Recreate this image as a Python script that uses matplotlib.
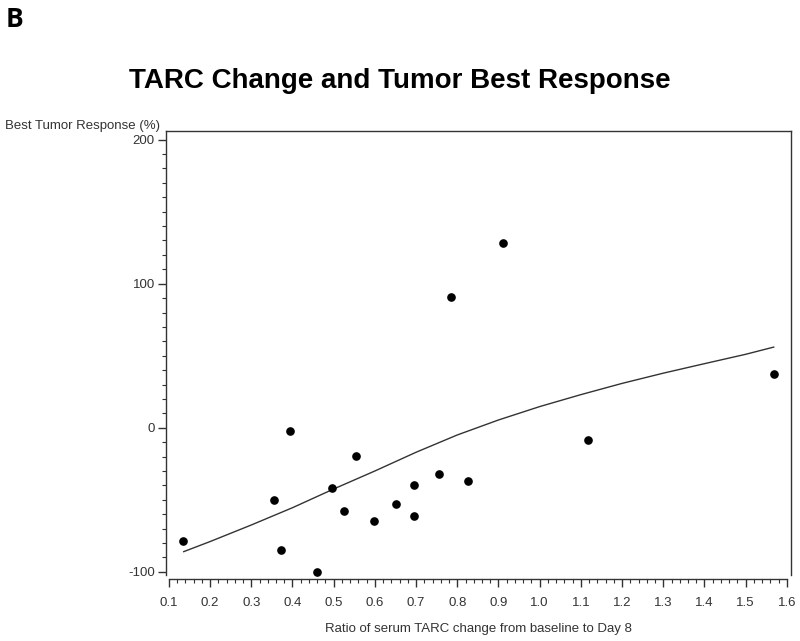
import matplotlib
matplotlib.use("Agg")
import matplotlib.pyplot as plt
from matplotlib.ticker import MultipleLocator, FixedLocator

plt.rcParams['font.family'] = ['Liberation Sans', 'DejaVu Sans']

# Scatter data: ratio of serum TARC change vs best tumor response (%)
tarc_ratio = [0.134, 0.355, 0.372, 0.394, 0.459, 0.496, 0.525, 0.554, 0.598,
              0.651, 0.695, 0.695, 0.755, 0.784, 0.826, 0.911, 1.117, 1.568]
tumor_resp = [-78.5, -50, -85, -2, -100, -42, -58, -19.5, -64.5,
              -53, -40, -61, -32, 91, -37, 128, -8.5, 37]

# Fitted curve
fit_x = [0.136, 0.2, 0.3, 0.4, 0.5, 0.6, 0.7, 0.8, 0.9, 1.0, 1.1, 1.2, 1.3, 1.4, 1.5, 1.568]
fit_y = [-86, -79, -67.5, -55.5, -42.5, -30, -17, -5, 5.4, 14.7, 23, 30.8, 37.9, 44.5, 51, 56]

x_ticks = [0.1, 0.2, 0.3, 0.4, 0.5, 0.6, 0.7, 0.8, 0.9, 1.0, 1.1, 1.2, 1.3, 1.4, 1.5, 1.6]
y_ticks = [-100, 0, 100, 200]

fig = plt.figure(figsize=(8.0, 6.41), dpi=100)
ax = fig.add_axes([0.2075, 0.0967, 0.78125, 0.6989])

ax.plot(fit_x, fit_y, color='#333333', lw=1.0)
ax.plot(tarc_ratio, tumor_resp, 'o', color='black', markersize=5.2, ls='none')

ax.set_xlim(0.093, 1.61)
ax.set_ylim(-105, 206)

ax.xaxis.set_major_locator(FixedLocator(x_ticks))
ax.set_xticklabels([f"{v:.1f}" for v in x_ticks])
ax.xaxis.set_minor_locator(MultipleLocator(0.02))
ax.yaxis.set_major_locator(FixedLocator(y_ticks))
ax.set_yticklabels([str(v) for v in y_ticks])
ax.yaxis.set_minor_locator(MultipleLocator(10))

for s in ax.spines.values():
    s.set_color('#333333')
    s.set_linewidth(1.0)
ax.spines['bottom'].set_bounds(0.1, 1.6)
ax.spines['left'].set_bounds(-102, 206)
ax.spines['right'].set_bounds(-102, 206)

ax.tick_params(axis='both', which='major', direction='out', length=6, width=1,
               color='#333333', labelsize=9.5, labelcolor='#333333', pad=5)
ax.tick_params(axis='both', which='minor', direction='out', length=3, width=0.8,
               color='#333333')
ax.tick_params(axis='y', which='major', pad=2)
ax.tick_params(axis='x', which='major', pad=7)

ax.set_xlabel("Ratio of serum TARC change from baseline to Day 8",
              fontsize=9.5, color='#333333', labelpad=10)

fig.text(0.006, 0.794, "Best Tumor Response (%)", fontsize=9.5, color='#333333',
         ha='left', va='bottom')
fig.text(0.5, 0.874, "TARC Change and Tumor Best Response", fontsize=20,
         fontweight='bold', ha='center', va='center', color='black')
fig.text(0.007, 0.99, "B", fontsize=19, fontweight='bold', ha='left', va='top',
         family=['Open Sans', 'DejaVu Sans'])

fig.savefig("out.png", dpi=100, facecolor='white')
